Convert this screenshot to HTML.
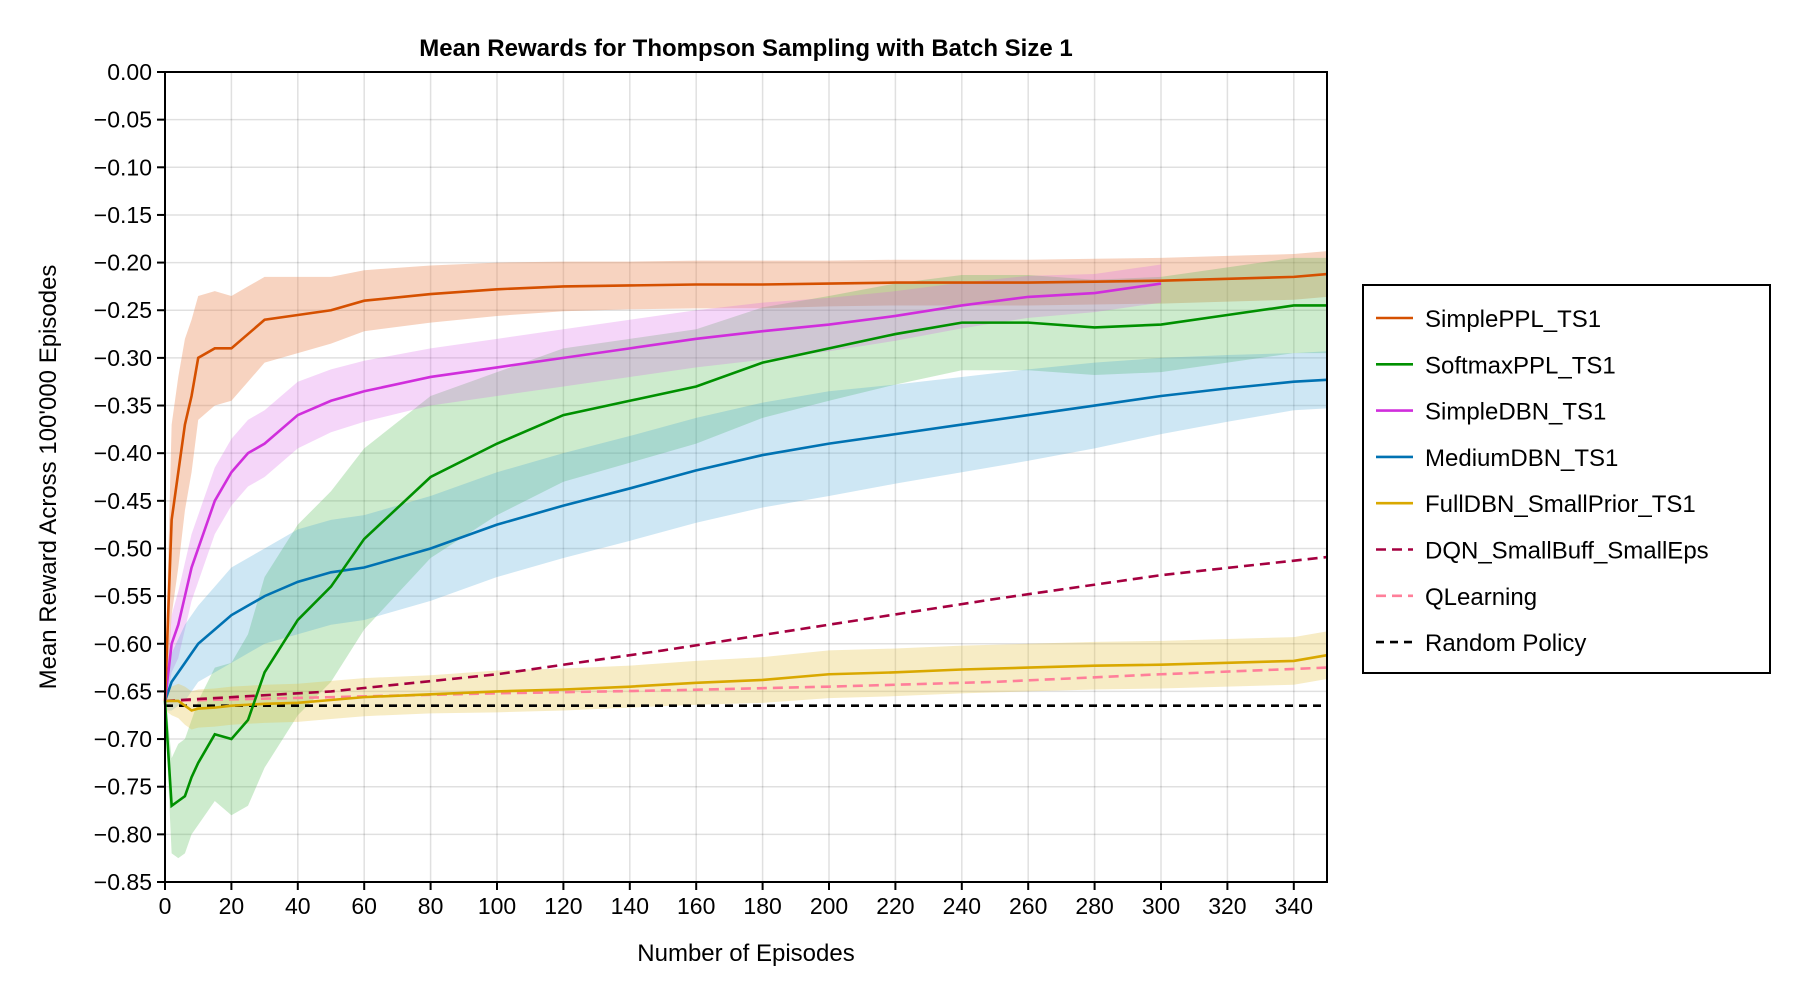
<!DOCTYPE html>
<html><head><meta charset="utf-8">
<style>
body{margin:0;background:#fff;}
svg{display:block;font-family:"Liberation Sans",Arial,sans-serif;}
</style></head>
<body>
<svg id="chart" width="1800" height="1000" viewBox="0 0 1800 1000" xmlns="http://www.w3.org/2000/svg">
<text x="746" y="56" text-anchor="middle" font-size="24" font-weight="bold">Mean Rewards for Thompson Sampling with Batch Size 1</text>
<g id="grid"></g>
<g id="bands"></g>
<g id="lines"></g>
<g id="axes"></g>
<text x="746" y="961" text-anchor="middle" font-size="24">Number of Episodes</text>
<text transform="translate(56,477) rotate(-90)" text-anchor="middle" font-size="24">Mean Reward Across 100'000 Episodes</text>
<g id="legend"></g>
</svg>
<script>
const xTicks=[0,20,40,60,80,100,120,140,160,180,200,220,240,260,280,300,320,340];
const yTicks=[0,-0.05,-0.1,-0.15,-0.2,-0.25,-0.3,-0.35,-0.4,-0.45,-0.5,-0.55,-0.6,-0.65,-0.7,-0.75,-0.8,-0.85];
const xs=[0,2,4,6,8,10,15,20,25,30,40,50,60,80,100,120,140,160,180,200,220,240,260,280,300,320,340,350];
const simplePPL=[-0.66,-0.47,-0.42,-0.37,-0.34,-0.30,-0.29,-0.29,-0.275,-0.26,-0.255,-0.25,-0.24,-0.233,-0.228,-0.225,-0.224,-0.223,-0.223,-0.222,-0.221,-0.221,-0.221,-0.22,-0.219,-0.217,-0.215,-0.212];
const simplePPLsd=[0.02,0.1,0.1,0.09,0.08,0.065,0.06,0.055,0.05,0.045,0.04,0.035,0.032,0.03,0.028,0.026,0.025,0.025,0.025,0.024,0.024,0.024,0.024,0.024,0.024,0.024,0.024,0.024];
const softmaxPPL=[-0.66,-0.77,-0.765,-0.76,-0.74,-0.725,-0.695,-0.70,-0.68,-0.63,-0.575,-0.54,-0.49,-0.425,-0.39,-0.36,-0.345,-0.33,-0.305,-0.29,-0.275,-0.263,-0.263,-0.268,-0.265,-0.255,-0.245,-0.245];
const softmaxPPLsd=[0.01,0.05,0.06,0.06,0.06,0.065,0.07,0.08,0.09,0.1,0.1,0.1,0.095,0.085,0.075,0.07,0.065,0.06,0.058,0.055,0.053,0.05,0.05,0.05,0.05,0.05,0.05,0.05];
const xsDBN=[0,2,4,6,8,10,15,20,25,30,40,50,60,80,100,120,140,160,180,200,220,240,260,280,300];
const simpleDBN=[-0.66,-0.60,-0.58,-0.55,-0.52,-0.50,-0.45,-0.42,-0.40,-0.39,-0.36,-0.345,-0.335,-0.32,-0.31,-0.30,-0.29,-0.28,-0.272,-0.265,-0.256,-0.245,-0.236,-0.232,-0.222];
const simpleDBNsd=[0.01,0.03,0.035,0.035,0.035,0.035,0.035,0.035,0.035,0.035,0.035,0.033,0.032,0.03,0.03,0.03,0.03,0.03,0.03,0.028,0.026,0.024,0.022,0.02,0.02];
const mediumDBN=[-0.66,-0.64,-0.63,-0.62,-0.61,-0.60,-0.585,-0.57,-0.56,-0.55,-0.535,-0.525,-0.52,-0.50,-0.475,-0.455,-0.437,-0.418,-0.402,-0.39,-0.38,-0.37,-0.36,-0.35,-0.34,-0.332,-0.325,-0.323];
const mediumDBNsd=[0.01,0.03,0.035,0.04,0.04,0.04,0.045,0.05,0.05,0.05,0.055,0.055,0.055,0.055,0.055,0.055,0.055,0.055,0.055,0.055,0.052,0.05,0.048,0.045,0.04,0.035,0.03,0.03];
const fullDBN=[-0.66,-0.66,-0.66,-0.665,-0.67,-0.668,-0.667,-0.665,-0.664,-0.663,-0.662,-0.659,-0.656,-0.653,-0.65,-0.648,-0.645,-0.641,-0.638,-0.632,-0.63,-0.627,-0.625,-0.623,-0.622,-0.62,-0.618,-0.612];
const fullDBNsd=[0.01,0.015,0.018,0.02,0.02,0.02,0.02,0.02,0.02,0.02,0.02,0.02,0.02,0.02,0.022,0.022,0.022,0.023,0.024,0.025,0.025,0.025,0.025,0.025,0.025,0.025,0.025,0.025];
const xsLin=[0,50,100,150,200,250,300,350];
const dqn=[-0.66,-0.65,-0.632,-0.607,-0.58,-0.553,-0.528,-0.509];
const qlearn=[-0.66,-0.656,-0.652,-0.649,-0.645,-0.64,-0.632,-0.625];
const randomPolicy=[-0.665,-0.665];
const xsRandom=[0,350];
const L=165,R=1327,T=72,B=882;
const sx=v=>L+(v-0)/(350-0)*(R-L);
const sy=v=>T+(0-v)/(0.85)*(B-T);
const NS="http://www.w3.org/2000/svg";
function mk(tag,attrs,parent){const e=document.createElementNS(NS,tag);for(const k in attrs)e.setAttribute(k,attrs[k]);parent.appendChild(e);return e;}
const grid=document.getElementById('grid'),axes=document.getElementById('axes'),bands=document.getElementById('bands'),lines=document.getElementById('lines'),legend=document.getElementById('legend');
xTicks.forEach(t=>{
 const g=mk('line',{x1:sx(t),x2:sx(t),y1:T,y2:B,stroke:'#000','stroke-opacity':0.12,'stroke-width':1.5},grid);
 
 
 const tk=mk('line',{x1:sx(t),x2:sx(t),y1:B,y2:B+8,stroke:'#000','stroke-width':2},axes);
 
 
 const tx=mk('text',{x:sx(t),y:B+32,'text-anchor':'middle','font-size':23},axes);
 tx.textContent=String(t);
 
 
});
yTicks.forEach(t=>{
 const g=mk('line',{x1:L,x2:R,y1:sy(t),y2:sy(t),stroke:'#000','stroke-opacity':0.12,'stroke-width':1.5},grid);
 
 
 const tk=mk('line',{x1:L-8,x2:L,y1:sy(t),y2:sy(t),stroke:'#000','stroke-width':2},axes);
 
 
 const tx=mk('text',{x:L-13,y:sy(t)+8,'text-anchor':'end','font-size':23},axes);
 tx.textContent=(t===0?'0.00':'\u2212'+Math.abs(t).toFixed(2));
 
 
});
const frame=mk('rect',{x:L,y:T,width:R-L,height:B-T,fill:'none',stroke:'#000','stroke-width':2},axes);


function band(x,m,sd,color,name,op){
 let d='M'+x.map((v,i)=>sx(v)+','+sy(m[i]+sd[i])).join('L');
 d+='L'+x.map((v,i)=>sx(v)+','+sy(m[i]-sd[i])).reverse().join('L')+'Z';
 const p=mk('path',{d:d,fill:color,'fill-opacity':op},bands);
 
 
}
function line(x,m,color,name,dash){
 const p=mk('path',{d:'M'+x.map((v,i)=>sx(v)+','+sy(m[i])).join('L'),fill:'none',stroke:color,'stroke-width':2.6,'stroke-dasharray':dash||'none'},lines);
 
 
}
band(xs,simplePPL,simplePPLsd,'#e8814a','simpleppl-band',0.35);
band(xs,softmaxPPL,softmaxPPLsd,'#4cb84c','softmaxppl-band',0.28);
band(xsDBN,simpleDBN,simpleDBNsd,'#d85ce8','simpledbn-band',0.25);
band(xs,mediumDBN,mediumDBNsd,'#3a9fd4','mediumdbn-band',0.25);
band(xs,fullDBN,fullDBNsd,'#e5c040','fulldbn-band',0.3);
line(xsRandom,randomPolicy,'#000','random-policy-line','8,6');
line(xsLin,qlearn,'#ff7f9a','qlearning-line','10,6');
line(xsLin,dqn,'#a50040','dqn-line','10,6');
line(xs,fullDBN,'#d9a800','fulldbn-line');
line(xs,mediumDBN,'#0072b2','mediumdbn-line');
line(xsDBN,simpleDBN,'#d02edc','simpledbn-line');
line(xs,softmaxPPL,'#009000','softmaxppl-line');
line(xs,simplePPL,'#d55000','simpleppl-line');
const lg=mk('rect',{x:1370,y:285,width:407,height:388,fill:'#fff',stroke:'#000','stroke-width':2},legend);


const legNames=['SimplePPL_TS1','SoftmaxPPL_TS1','SimpleDBN_TS1','MediumDBN_TS1','FullDBN_SmallPrior_TS1','DQN_SmallBuff_SmallEps','QLearning','Random Policy'];
const legColors=['#d55000','#009000','#d02edc','#0072b2','#d9a800','#a50040','#ff7f9a','#000'];
const legDash=['none','none','none','none','none','10,6','10,6','8,6'];
legNames.forEach((n,i)=>{
 const y=318+i*46.3;
 const ln=mk('line',{x1:1383,x2:1420,y1:y,y2:y,stroke:legColors[i],'stroke-width':2.6,'stroke-dasharray':legDash[i]},legend);
 
 
 const t=mk('text',{x:1432,y:y+9,'font-size':24},legend);
 t.textContent=n;
 
 
});
legend.setAttribute('transform','translate(-7,0)');
</script>
</body></html>
